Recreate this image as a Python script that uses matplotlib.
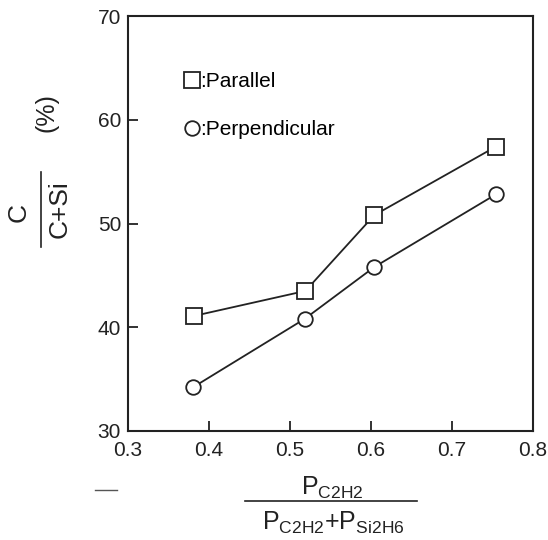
import matplotlib
matplotlib.use("Agg")
import matplotlib.pyplot as plt
from matplotlib.lines import Line2D

# data
x_par = [0.382, 0.519, 0.604, 0.754]
y_par = [41.1, 43.5, 50.8, 57.4]
x_perp = [0.380, 0.518, 0.604, 0.754]
y_perp = [34.2, 40.8, 45.8, 52.8]

xticks = [0.3, 0.4, 0.5, 0.6, 0.7, 0.8]
yticks = [30, 40, 50, 60, 70]
legend_labels = [":Parallel", ":Perpendicular"]

plt.rcParams['font.family'] = ['Liberation Sans', 'DejaVu Sans']
plt.rcParams['mathtext.fontset'] = 'custom'
plt.rcParams['mathtext.rm'] = 'Liberation Sans'
plt.rcParams['mathtext.it'] = 'Liberation Sans'

W, H = 548, 540
fig = plt.figure(figsize=(W / 100, H / 100), dpi=100)
ax = fig.add_axes([128 / W, 1 - 431 / H, 405 / W, 415 / H])

ink = '#222222'
ax.plot(x_par, y_par, color=ink, lw=1.3, marker='s', ms=11,
        mfc='white', mec=ink, mew=1.3)
ax.plot(x_perp, y_perp, color=ink, lw=1.3, marker='o', ms=10.5,
        mfc='white', mec=ink, mew=1.3)

ax.set_xlim(0.3, 0.8)
ax.set_ylim(30, 70)
ax.set_xticks(xticks)
ax.set_yticks(yticks)
ax.set_xticklabels([f"{v:.1f}" for v in xticks])
ax.set_yticklabels([str(v) for v in yticks])
ax.tick_params(direction='in', length=7, width=1.3, labelsize=15,
               colors=ink, pad=5)
ax.tick_params(axis='x', pad=7)
for s in ax.spines.values():
    s.set_linewidth(1.5)
    s.set_color(ink)

# legend
handles = [Line2D([], [], ls='none', marker='s', ms=11, mfc='white', mec=ink, mew=1.3),
           Line2D([], [], ls='none', marker='o', ms=10.5, mfc='white', mec=ink, mew=1.3)]
ax.legend(handles, legend_labels, loc='upper left', bbox_to_anchor=(0.122, 0.885),
          frameon=False, fontsize=15, handlelength=0.6, handletextpad=0.1,
          labelspacing=1.4, borderaxespad=0)

# y label: C / (C+Si)  (%)
fig.text(19 / W, 1 - 212 / H, "C", rotation=90, ha='center', va='center',
         fontsize=19, color=ink)
fig.text(60 / W, 1 - 209 / H, "C+Si", rotation=90, ha='center', va='center',
         fontsize=19, color=ink)
fig.add_artist(Line2D([41 / W, 41 / W], [1 - 172 / H, 1 - 247 / H],
                      transform=fig.transFigure, color=ink, lw=1.2))
fig.text(46 / W, 1 - 113 / H, "(%)", rotation=90, ha='center', va='center',
         fontsize=18, color=ink)

# x label: P_C2H2 / (P_C2H2 + P_Si2H6)
fig.text(332 / W, 1 - 488 / H, r"$\mathrm{P_{C2H2}}$", ha='center', va='center',
         fontsize=18, color=ink)
fig.add_artist(Line2D([245 / W, 417 / W], [1 - 501 / H, 1 - 501 / H],
                      transform=fig.transFigure, color=ink, lw=1.2))
fig.text(333 / W, 1 - 523 / H, r"$\mathrm{P_{C2H2}{+}P_{Si2H6}}$", ha='center',
         va='center', fontsize=18, color=ink)

# stray dash on the scan
fig.add_artist(Line2D([95 / W, 117 / W], [1 - 490 / H, 1 - 490 / H],
                      transform=fig.transFigure, color='#555555', lw=1.0))

fig.savefig("out.png", dpi=100, facecolor='white')
